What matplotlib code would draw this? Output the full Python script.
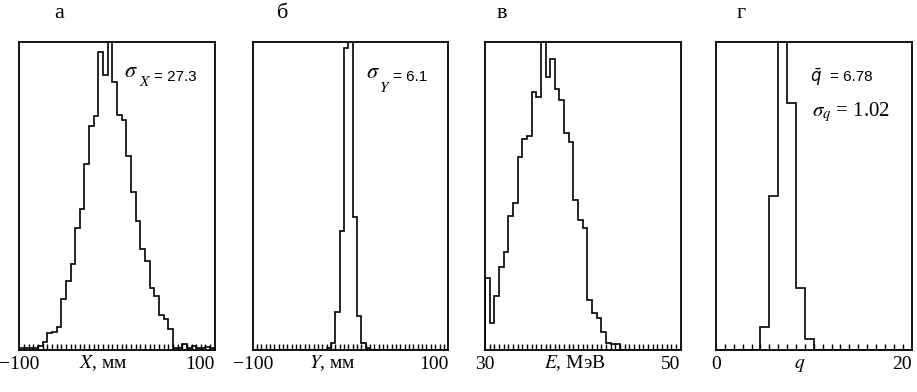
import numpy as np
import matplotlib.pyplot as plt
from matplotlib.ticker import FixedLocator

plt.rcParams['font.family'] = ['Liberation Serif', 'DejaVu Serif']
plt.rcParams['mathtext.fontset'] = 'stix'
plt.rcParams['xtick.direction'] = 'in'

# histogram data (counts in % of the axis height, bins over the x range)
x_range = (-100, 100)
x_counts = [0.8, 0.5, 0.5, 0.8, 1.3, 2.5, 5.4, 6.0, 7.6, 16.5, 22.3, 27.9, 39.5, 45.7,
            60.3, 72.8, 75.8, 96.7, 89.3, 115, 87.0, 76.1, 74.5, 63.0, 51.1, 41.8, 32.6,
            28.8, 20.1, 17.4, 11.4, 10.1, 6.8, 0.5, 0.5, 1.8, 0.6, 1.3, 0.6, 0.8, 1.0, 0.6]

y_range = (-100, 100)
y_counts = [0] * 17 + [0.5, 2.4, 12.4, 38.7, 97.8, 130, 43.0, 11.1, 2.4, 0.5] + [0] * 18

e_range = (30, 50)
e_counts = [23.2, 8.6, 17.6, 27.0, 31.9, 43.5, 47.8, 62.5, 68.3, 69.4, 83.8, 82.2, 115,
            88.6, 94.3, 84.5, 81.1, 70.5, 67.6, 48.6, 42.2, 39.5, 16.2, 12.1, 10.3, 5.9,
            2.4, 2.0, 1.8] + [0] * 13

q_range = (0, 20)
q_counts = [0, 0, 0, 0, 0, 7.4, 50, 120, 80, 20, 3.5] + [0] * 11

panel_letters = ['а', 'б', 'в', 'г']
x_labels = [r'$X$, мм', r'$Y$, мм', r'$E$, МэВ', r'$q$']
tick_labels = [('−100', '100'), ('−100', '100'), ('30', '50'), ('0', '20')]
ranges = [x_range, y_range, e_range, q_range]
counts = [x_counts, y_counts, e_counts, q_counts]

W, H = 917, 392
lefts = [19.3, 252.7, 485, 716]
ax_w, ax_top, ax_bot = 195.5, 41.7, 350
label_x = [0.43, 0.41, 0.46, 0.43]
letter_x = [59, 283, 502, 741]

fig = plt.figure(figsize=(W / 100, H / 100), dpi=100)

axes = []
for i in range(4):
    ax = fig.add_axes([lefts[i] / W, 1 - ax_bot / H, ax_w / W, (ax_bot - ax_top) / H])
    lo, hi = ranges[i]
    edges = np.linspace(lo, hi, len(counts[i]) + 1)
    ax.stairs(counts[i], edges, color='black', lw=1.2, baseline=0)
    ax.set_xlim(lo, hi)
    ax.set_ylim(0, 100)
    ax.set_yticks([])
    ax.set_xticks([lo, hi], tick_labels[i])
    ax.xaxis.set_minor_locator(FixedLocator(edges[1:-1]))
    ax.tick_params(axis='x', which='major', length=0, pad=4, labelsize=14)
    ax.tick_params(axis='x', which='minor', direction='in', length=4.5, width=1.0,
                   color='black', bottom=True, top=False)
    tl = ax.get_xticklabels()
    tl[-1].set_ha('right')
    for s in ax.spines.values():
        s.set_linewidth(1.3)
    ax.set_xlabel(x_labels[i], fontsize=14, va='baseline')
    ax.xaxis.set_label_coords(label_x[i], -0.06)
    fig.text(letter_x[i] / W, 1 - 14 / H, panel_letters[i], fontsize=16,
             ha='center', va='center')
    axes.append(ax)

# annotations
sans = ['Liberation Sans', 'DejaVu Sans']
ax = axes[0]
ax.text(0.573, 0.90, r'$\sigma$', transform=ax.transAxes, fontsize=16, ha='center', va='center')
ax.text(0.644, 0.868, r'$X$', transform=ax.transAxes, fontsize=11, ha='center', va='center')
ax.text(0.80, 0.885, '= 27.3', transform=ax.transAxes, fontsize=11, family=sans,
        ha='center', va='center')

ax = axes[1]
ax.text(0.615, 0.898, r'$\sigma$', transform=ax.transAxes, fontsize=16, ha='center', va='center')
ax.text(0.676, 0.85, r'$Y$', transform=ax.transAxes, fontsize=11, ha='center', va='center')
ax.text(0.805, 0.885, '= 6.1', transform=ax.transAxes, fontsize=11, family=sans,
        ha='center', va='center')

ax = axes[3]
ax.text(0.511, 0.885, r'$\bar{q}$', transform=ax.transAxes, fontsize=12,
        math_fontfamily='dejavusans', ha='center', va='center')
ax.text(0.69, 0.885, '= 6.78', transform=ax.transAxes, fontsize=11, family=sans,
        ha='center', va='center')
ax.text(0.69, 0.772, r'$\sigma_q$ = 1.02', transform=ax.transAxes, fontsize=15,
        ha='center', va='center')

fig.savefig('out.png', dpi=100)
